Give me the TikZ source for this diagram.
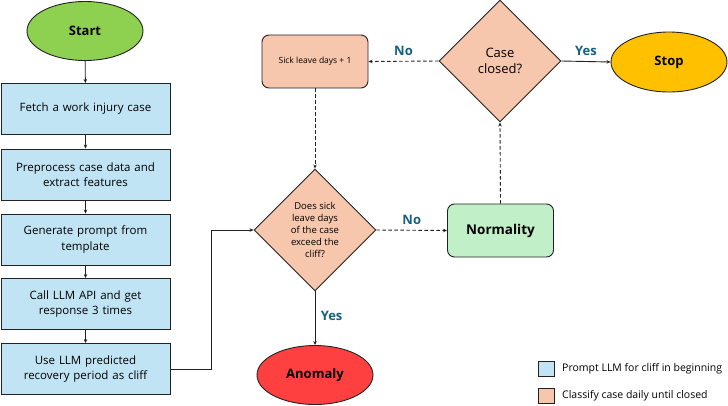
\documentclass[tikz,border=0pt]{standalone}
\usepackage{fontspec}
\setmainfont{Open Sans}
\usetikzlibrary{shapes.geometric,arrows.meta,positioning}
\definecolor{startgreen}{HTML}{8ED04F}
\definecolor{bluebox}{HTML}{C1E4F5}
\definecolor{orangebox}{HTML}{F6C6AD}
\definecolor{normgreen}{HTML}{C1F0C8}
\definecolor{anomred}{HTML}{FF4040}
\definecolor{stopyellow}{HTML}{FFC000}
\definecolor{labelblue}{HTML}{156082}
\definecolor{edge}{HTML}{222222}
\begin{document}
\begin{tikzpicture}[x=1pt,y=-1pt,
  every node/.style={font=\fontsize{11.5}{14}\selectfont},
  term/.style={ellipse,draw=edge,line width=0.9pt,minimum width=116pt,minimum height=59pt,inner sep=0pt,font=\fontsize{13}{15}\selectfont\bfseries},
  stepbox/.style={rectangle,draw=edge,line width=0.9pt,fill=bluebox,minimum width=169pt,minimum height=51pt,text width=165pt,align=center,inner sep=0pt,font=\fontsize{11.5}{15.5}\selectfont},
  rbox/.style={rectangle,rounded corners=7pt,draw=edge,line width=0.9pt,minimum width=106pt,minimum height=53pt,align=center,inner sep=0pt},
  decide/.style={diamond,aspect=1,draw=edge,line width=0.9pt,fill=orangebox,minimum width=122pt,minimum height=122pt,inner sep=0pt,align=center},
  conn/.style={draw=edge,line width=0.9pt,-{Stealth[length=4pt,width=3.5pt]}},
  dconn/.style={conn,dash pattern=on 3.5pt off 2.5pt},
  lbl/.style={text=labelblue,font=\fontsize{13}{15}\selectfont\bfseries},
  legsq/.style={rectangle,draw=edge,line width=0.9pt,minimum width=16pt,minimum height=15pt,inner sep=0pt},
  legtxt/.style={anchor=west,font=\fontsize{10.5}{12}\selectfont,inner sep=0pt}
]
\useasboundingbox (0,0) rectangle (728,405);

\node[term,fill=startgreen] (start) at (85,31) {Start};
\node[stepbox] (fetch) at (85.5,109) {Fetch a work injury case};
\node[stepbox] (prep) at (85.5,174.5) {Preprocess case data and\\extract features};
\node[stepbox] (gen) at (85.5,239.5) {Generate prompt from\\template};
\node[stepbox] (call) at (85.5,304) {Call LLM API and get\\response 3 times};
\node[stepbox] (use) at (85.5,369) {Use LLM predicted\\recovery period as cliff};

\node[decide,font=\fontsize{9.5}{12}\selectfont] (dec) at (315,230) {Does sick\\leave days\\of the case\\exceed the\\cliff?};
\node[rbox,fill=orangebox,font=\fontsize{8.5}{10}\selectfont] (sick) at (315,61.5) {Sick leave days + 1};
\node[decide,font=\fontsize{13}{16}\selectfont] (closed) at (500,61) {Case\\closed?};
\node[term,fill=stopyellow,minimum height=60pt] (stop) at (669,62) {Stop};
\node[rbox,fill=normgreen,font=\fontsize{13.5}{15}\selectfont\bfseries] (norm) at (500.5,230.5) {Normality};
\node[term,fill=anomred] (anom) at (315,375) {Anomaly};

\draw[conn] (start) -- (fetch);
\draw[conn] (fetch) -- (prep);
\draw[conn] (prep) -- (gen);
\draw[conn] (gen) -- (call);
\draw[conn] (call) -- (use);
\draw[conn] (use.east) -- ++(41,0) |- (dec.west);
\draw[conn] (dec.south) -- node[lbl,right=2pt,pos=0.45] (yes1) {Yes} (anom.north);
\draw[dconn] (dec.east) -- node[lbl,above=2pt] (no1) {No} (norm.west);
\draw[dconn] (norm.north) -- (closed.south);
\draw[dconn] (closed.west) -- node[lbl,above=2pt] (no2) {No} (sick.east);
\draw[dconn] (sick.south) -- (dec.north);
\draw[conn] (closed.east) -- node[lbl,above=2pt] (yes2) {Yes} (stop.west);

\node[legsq,fill=bluebox] (leg1) at (546,368.5) {};
\node[legtxt] (leg1t) at (562,368.5) {Prompt LLM for cliff in beginning};
\node[legsq,fill=orangebox] (leg2) at (546,395.5) {};
\node[legtxt] (leg2t) at (562,395.5) {Classify case daily until closed};
\end{tikzpicture}
\end{document}
